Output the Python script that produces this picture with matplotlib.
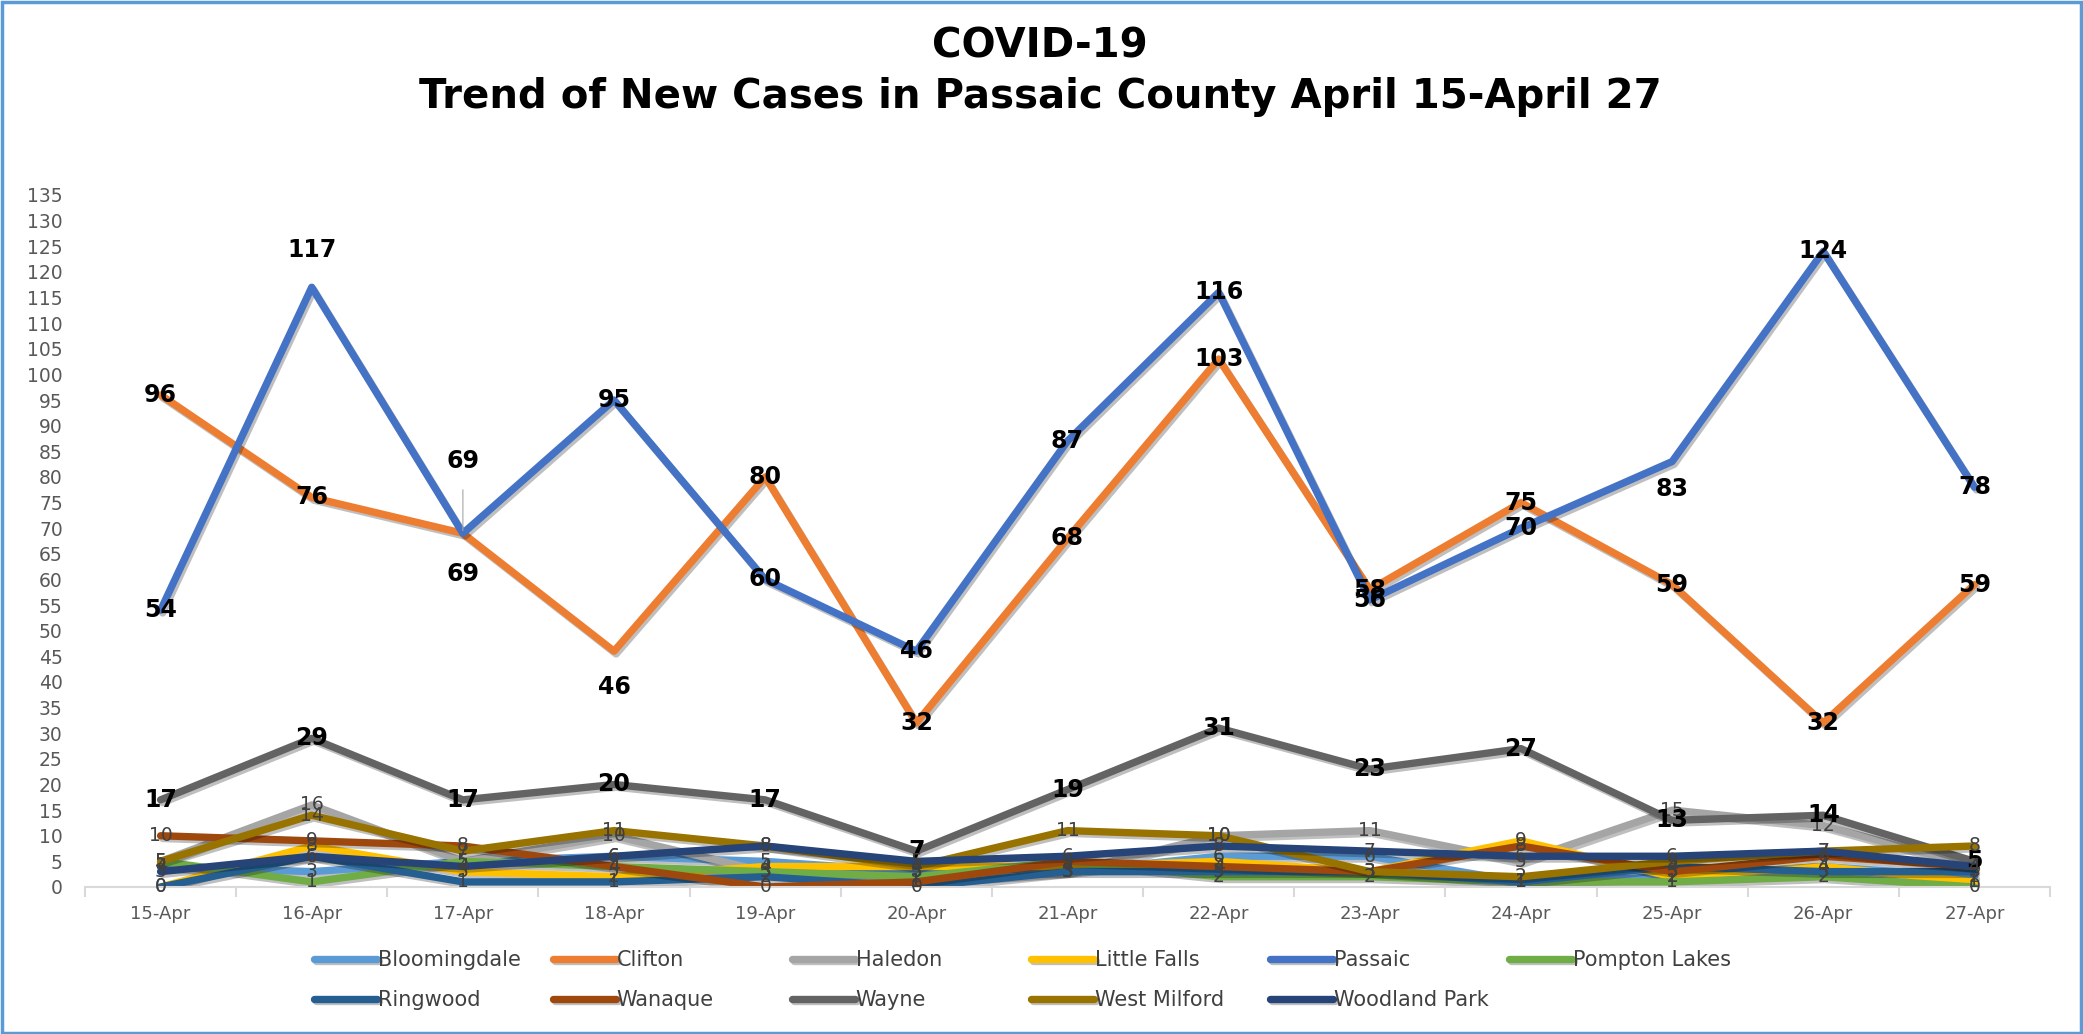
import numpy as np
import matplotlib
matplotlib.use('Agg')
import matplotlib.pyplot as plt
import matplotlib.patheffects as pe
from matplotlib.patches import Rectangle

# dates on the x axis
dates = ['15-Apr', '16-Apr', '17-Apr', '18-Apr', '19-Apr', '20-Apr', '21-Apr',
         '22-Apr', '23-Apr', '24-Apr', '25-Apr', '26-Apr', '27-Apr']

# new cases per town
bloomingdale = [4, 3, 5, 6, 5, 3, 3, 6, 6, 1, 2, 4, 2]
clifton = [96, 76, 69, 46, 80, 32, 68, 103, 58, 75, 59, 32, 59]
haledon = [5, 16, 5, 10, 3, 1, 3, 10, 11, 5, 15, 12, 4]
little_falls = [0, 8, 3, 2, 4, 4, 4, 5, 3, 9, 2, 4, 1]
passaic = [54, 117, 69, 95, 60, 46, 87, 116, 56, 70, 83, 124, 78]
pompton_lakes = [5, 1, 5, 4, 3, 2, 5, 2, 2, 1, 1, 2, 0]
ringwood = [0, 6, 1, 1, 2, 0, 3, 3, 3, 1, 4, 3, 3]
wanaque = [10, 9, 8, 4, 0, 1, 5, 4, 3, 8, 3, 6, 4]
wayne = [17, 29, 17, 20, 17, 7, 19, 31, 23, 27, 13, 14, 5]
west_milford = [5, 14, 7, 11, 8, 4, 11, 10, 3, 2, 5, 7, 8]
woodland_park = [3, 6, 4, 6, 8, 5, 6, 8, 7, 6, 6, 7, 4]

towns = ['Bloomingdale', 'Clifton', 'Haledon', 'Little Falls', 'Passaic', 'Pompton Lakes',
         'Ringwood', 'Wanaque', 'Wayne', 'West Milford', 'Woodland Park']
values = [bloomingdale, clifton, haledon, little_falls, passaic, pompton_lakes,
          ringwood, wanaque, wayne, west_milford, woodland_park]
colors = ['#5B9BD5', '#ED7D31', '#A5A5A5', '#FFC000', '#4472C4', '#70AD47',
          '#255E91', '#9E480E', '#636363', '#997300', '#264478']
big_towns = ['Clifton', 'Passaic', 'Wayne']

# labels that Excel moved away from the point (points offset)
label_offsets = {
    ('Passaic', 1): (0, 27),
    ('Passaic', 2): (0, 52),
    ('Passaic', 10): (0, -20),
    ('Clifton', 2): (0, -29),
    ('Clifton', 3): (0, -26),
}

fig = plt.figure(figsize=(20.83, 10.34), dpi=100)
ax = fig.add_axes([85 / 2083, 1 - 887 / 1034, (2050 - 85) / 2083, (887 - 195) / 1034])

x = np.arange(len(dates))
lines = []
for name, vals, c in zip(towns, values, colors):
    ln, = ax.plot(x, vals, color=c, lw=5.3, solid_capstyle='round', solid_joinstyle='round',
                  path_effects=[pe.SimpleLineShadow(offset=(1.5, -2), shadow_color='black', alpha=0.25),
                                pe.Normal()])
    lines.append(ln)

for name, vals in zip(towns, values):
    big = name in big_towns
    for i, v in enumerate(vals):
        dx, dy = label_offsets.get((name, i), (0, 0))
        kw = dict(fontsize=17, fontweight='heavy', color='black') if big else \
            dict(fontsize=13.5, color='#404040')
        if name == 'Passaic' and dy > 30:
            ax.annotate(str(v), (i, v), xytext=(dx, dy), textcoords='offset points',
                        ha='center', va='center', zorder=20,
                        arrowprops=dict(arrowstyle='-', color='#A6A6A6', lw=0.8,
                                        shrinkA=10, shrinkB=2), **kw)
        else:
            ax.annotate(str(v), (i, v), xytext=(dx, dy), textcoords='offset points',
                        ha='center', va='center', zorder=20, **kw)

ax.set_xlim(-0.5, len(dates) - 0.5)
ax.set_ylim(0, 135)
ax.set_yticks(np.arange(0, 136, 5))
ax.set_xticks(x)
ax.set_xticklabels(dates)
ax.set_xticks(np.arange(-0.5, len(dates), 1), minor=True)
ax.tick_params(axis='y', length=0, pad=16, labelsize=13.5, labelcolor='#595959')
ax.tick_params(axis='x', which='major', length=0, pad=13, labelsize=13, labelcolor='#595959')
ax.tick_params(axis='x', which='minor', length=7, width=1.5, color='#D9D9D9')
for s in ['top', 'right', 'left']:
    ax.spines[s].set_visible(False)
ax.spines['bottom'].set_color('#D9D9D9')
ax.spines['bottom'].set_linewidth(1.5)
ax.set_facecolor('none')

fig.text(1040 / 2083, 1 - 46 / 1034, 'COVID-19', ha='center', va='center',
         fontsize=29, fontweight='bold')
fig.text(1040 / 2083, 1 - 97 / 1034, 'Trend of New Cases in Passaic County April 15-April 27',
         ha='center', va='center', fontsize=29, fontweight='bold')

# legend laid out on a fixed grid like Excel
for k, (ln, name) in enumerate(zip(lines, towns)):
    col, row = k % 6, k // 6
    lx = 314 / 2083 + col * 239 / 2083
    ly = 1 - (960 + row * 40) / 1034
    leg = fig.legend([ln], [name], loc='center left', bbox_to_anchor=(lx, ly), frameon=False,
                     handlelength=3.0, handletextpad=0.05, borderpad=0, borderaxespad=0,
                     prop=dict(size=15))
    for t in leg.get_texts():
        t.set_color('#404040')

fig.patches.append(Rectangle((0.001, 0.001), 0.998, 0.997, transform=fig.transFigure,
                             fill=False, edgecolor='#5B9BD5', lw=2.5))

fig.savefig('out.png', dpi=100)
